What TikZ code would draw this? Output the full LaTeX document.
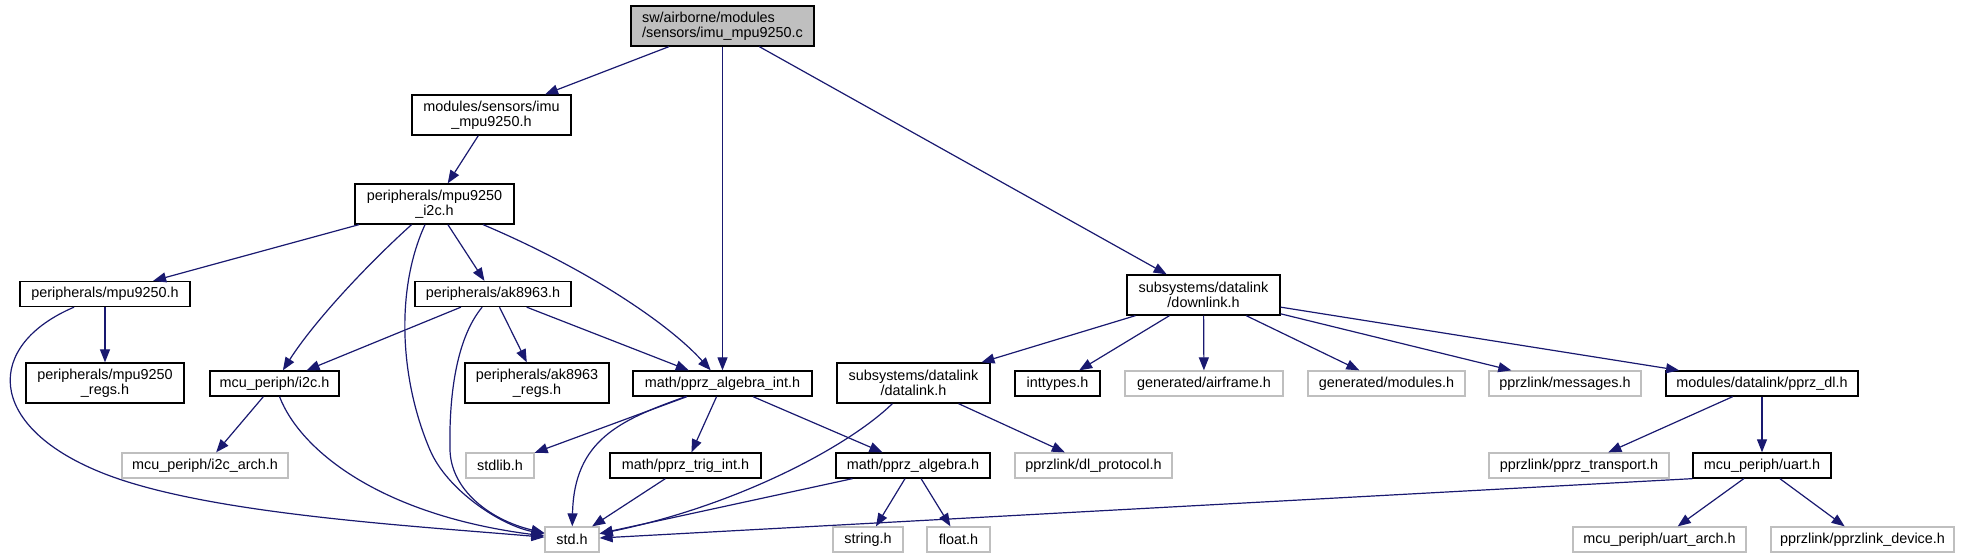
\documentclass[tikz,border=0pt]{standalone}
\usepackage{fontspec}
\setmainfont{Liberation Sans}
\usepackage{tikz}
\usetikzlibrary{arrows.meta}
\definecolor{edgeblue}{HTML}{191970}
\definecolor{boxgray}{HTML}{BFBFBF}
\newcommand{\graphfont}{\fontsize{14.4}{15}\selectfont}

\begin{document}
\begin{tikzpicture}[
        x=1pt, y=-1pt,
        file/.style={rectangle, draw=black, fill=white, line width=1.3pt, inner sep=0pt, align=center, font=\graphfont, minimum height=25pt},
        twoline/.style={minimum height=40pt},
        sysfile/.style={file, draw=boxgray},
        mainfile/.style={file, fill=boxgray, twoline},
        dep/.style={-{Triangle[length=13pt, width=10pt]}, draw=edgeblue, line width=1.2pt}
    ]
    \useasboundingbox (0,0) rectangle (1963,559);

    % top of the graph
    \node[mainfile, minimum width=183pt, align=left] (main) at (722.5,26) {sw/airborne/modules\\/sensors/imu\_mpu9250.c};
    \node[file, twoline, minimum width=159pt] (imu) at (491.5,115) {modules/sensors/imu\\\_mpu9250.h};
    \node[file, twoline, minimum width=159pt] (mpui2c) at (434.5,204) {peripherals/mpu9250\\\_i2c.h};

    % sensor headers
    \node[file, minimum width=170pt] (mpu) at (105,294) {peripherals/mpu9250.h};
    \node[file, twoline, minimum width=158pt] (mpuregs) at (105,383) {peripherals/mpu9250\\\_regs.h};
    \node[file, minimum width=129pt] (i2c) at (274.5,383.5) {mcu\_periph/i2c.h};
    \node[sysfile, minimum width=166pt] (i2carch) at (205,465.5) {mcu\_periph/i2c\_arch.h};
    \node[file, minimum width=156pt] (ak) at (493,294) {peripherals/ak8963.h};
    \node[file, twoline, minimum width=144pt] (akregs) at (537,383) {peripherals/ak8963\\\_regs.h};
    \node[sysfile, minimum width=68pt] (stdlib) at (500,465.5) {stdlib.h};
    \node[sysfile, minimum width=54pt] (std) at (572,539.5) {std.h};

    % math
    \node[file, minimum width=179pt] (algint) at (722.5,383.5) {math/pprz\_algebra\_int.h};
    \node[file, minimum width=151pt] (trig) at (685.5,465.5) {math/pprz\_trig\_int.h};
    \node[file, minimum width=154pt] (alg) at (913,465.5) {math/pprz\_algebra.h};
    \node[sysfile, minimum width=70pt] (string) at (868,539.5) {string.h};
    \node[sysfile, minimum width=63pt] (float) at (958.5,539.5) {float.h};

    % datalink
    \node[file, twoline, minimum width=153pt] (downlink) at (1203.5,295) {subsystems/datalink\\/downlink.h};
    \node[file, twoline, minimum width=153pt] (datalink) at (913.5,383) {subsystems/datalink\\/datalink.h};
    \node[file, minimum width=85pt] (inttypes) at (1057.5,383.5) {inttypes.h};
    \node[sysfile, minimum width=158pt] (airframe) at (1204,383.5) {generated/airframe.h};
    \node[sysfile, minimum width=157pt] (dlproto) at (1093.5,465.5) {pprzlink/dl\_protocol.h};
    \node[sysfile, minimum width=157pt] (modules) at (1386.5,383.5) {generated/modules.h};
    \node[sysfile, minimum width=152pt] (messages) at (1565,383.5) {pprzlink/messages.h};
    \node[file, minimum width=192pt] (pprzdl) at (1762,383.5) {modules/datalink/pprz\_dl.h};
    \node[sysfile, minimum width=180pt] (transport) at (1579,465.5) {pprzlink/pprz\_transport.h};
    \node[file, minimum width=138pt] (uart) at (1762,465.5) {mcu\_periph/uart.h};
    \node[sysfile, minimum width=173pt] (uartarch) at (1659.5,539.5) {mcu\_periph/uart\_arch.h};
    \node[sysfile, minimum width=183pt] (device) at (1862.5,539.5) {pprzlink/pprzlink\_device.h};

    % includes
    \draw[dep] (main) -- (imu);
    \draw[dep] (main) -- (algint);
    \draw[dep] (main) -- (downlink);
    \draw[dep] (imu) -- (mpui2c);
    \draw[dep] (mpui2c) -- (mpu);
    \draw[dep] (mpui2c) .. controls (370,262) and (315,320) .. (i2c);
    \draw[dep] (mpui2c) .. controls (395,290) and (400,380) .. (430,450) .. controls (447,490) and (500,525) .. (std);
    \draw[dep] (mpui2c) -- (ak);
    \draw[dep] (mpui2c) .. controls (590,270) and (670,325) .. (algint);
    \draw[dep] (mpu) -- (mpuregs);
    \draw[dep] (mpu) .. controls (-15,345) and (-15,425) .. (100,472) .. controls (200,513) and (400,525) .. (std);
    \draw[dep] (ak) -- (i2c);
    \draw[dep] (ak) .. controls (455,340) and (449,400) .. (450,450) .. controls (451,490) and (490,520) .. (std);
    \draw[dep] (ak) -- (akregs);
    \draw[dep] (ak) -- (algint);
    \draw[dep] (i2c) -- (i2carch);
    \draw[dep] (i2c) .. controls (300,450) and (380,515) .. (std);
    \draw[dep] (algint) -- (stdlib);
    \draw[dep] (algint) .. controls (620,420) and (574,440) .. (std);
    \draw[dep] (algint) -- (trig);
    \draw[dep] (algint) -- (alg);
    \draw[dep] (trig) -- (std);
    \draw[dep] (alg) -- (std);
    \draw[dep] (alg) -- (string);
    \draw[dep] (alg) -- (float);
    \draw[dep] (downlink) -- (datalink);
    \draw[dep] (downlink) -- (inttypes);
    \draw[dep] (downlink) -- (airframe);
    \draw[dep] (downlink) -- (modules);
    \draw[dep] (downlink) -- (messages);
    \draw[dep] (downlink) -- (pprzdl);
    \draw[dep] (datalink) .. controls (850,445) and (740,505) .. (std);
    \draw[dep] (datalink) -- (dlproto);
    \draw[dep] (pprzdl) -- (transport);
    \draw[dep] (pprzdl) -- (uart);
    \draw[dep] (uart.south west) -- (std);
    \draw[dep] (uart) -- (uartarch);
    \draw[dep] (uart) -- (device);

\end{tikzpicture}
\end{document}
